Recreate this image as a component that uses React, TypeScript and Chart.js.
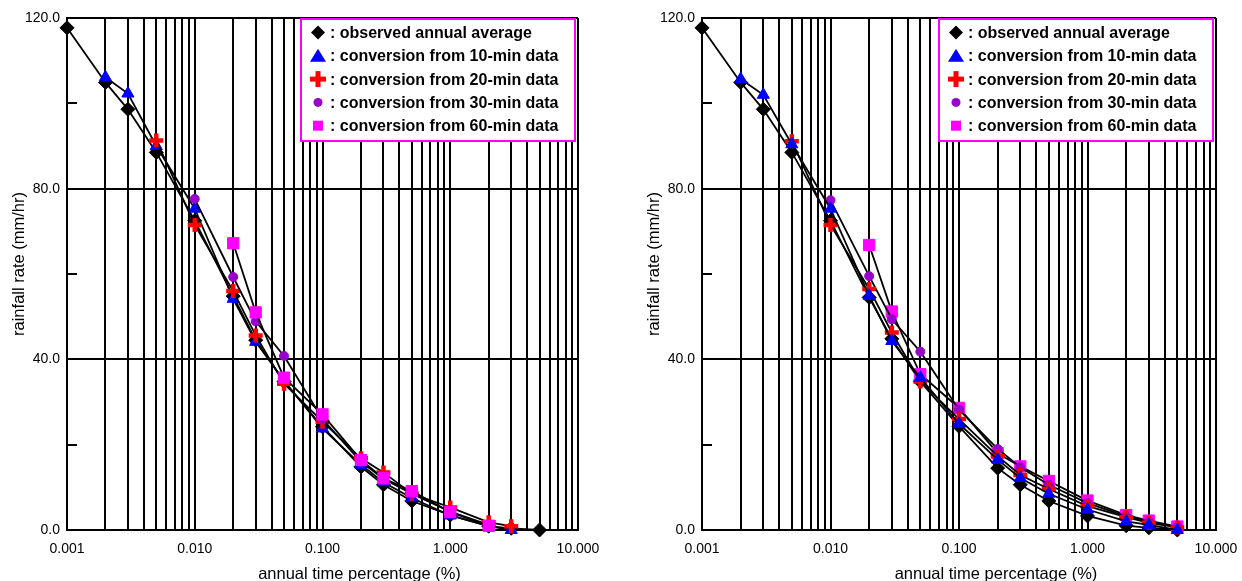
import React, { useEffect, useRef } from 'react';
import { Chart, registerables } from 'chart.js';

Chart.register(...registerables);

// ---------- data ----------
const X_PCT = [0.001, 0.002, 0.003, 0.005, 0.01, 0.02, 0.03, 0.05, 0.1, 0.2, 0.3, 0.5, 1, 2, 3, 5];

// left panel
const L_OBSERVED = [117.7, 104.9, 98.6, 88.5, 72.5, 54.8, 44.5, 34.8, 24.2, 14.8, 10.6, 6.8, 3.5, 0.9, 0.4, 0.0];
const L_CONV10 = [null, 106.1, 102.3, 90.0, 75.3, 54.2, 44.1, 35.0, 23.8, 15.3, 11.2, 7.5, 3.4, 0.9, 0.0, null];
const L_CONV20 = [null, null, null, 91.3, 71.5, 56.0, 45.6, 34.3, 25.4, 16.8, 13.5, 8.5, 5.3, 1.8, 0.9, null];
const L_CONV30 = [null, null, null, null, 77.6, 59.3, 48.9, 40.8, 26.0, 16.0, 12.0, 8.5, 4.3, 1.2, null, null];
const L_CONV60 = [null, null, null, null, null, 67.2, 51.0, 35.7, 27.1, 16.4, 12.1, 9.1, 4.2, 1.0, null, null];

// right panel
const R_OBSERVED = [117.7, 104.9, 98.6, 88.5, 72.5, 54.5, 44.8, 34.8, 24.3, 14.5, 10.6, 6.8, 3.3, 1.0, 0.5, 0.0];
const R_CONV10 = [null, 105.7, 102.0, 90.4, 75.3, 54.9, 44.3, 35.7, 24.9, 16.5, 12.2, 8.5, 4.8, 2.0, 1.2, 0.0];
const R_CONV20 = [null, null, null, 91.1, 71.5, 56.5, 46.3, 34.8, 26.0, 17.3, 12.9, 9.6, 5.6, 3.0, 1.7, 0.6];
const R_CONV30 = [null, null, null, null, 77.3, 59.5, 49.4, 41.8, 28.2, 19.0, 14.7, 10.6, 6.3, 3.2, 2.0, 0.7];
const R_CONV60 = [null, null, null, null, null, 66.8, 51.2, 36.5, 28.6, 18.0, 14.9, 11.5, 6.9, 3.5, 2.2, 0.8];

const SERIES_NAMES = [
  'observed annual average',
  'conversion from 10-min data',
  'conversion from 20-min data',
  'conversion from 30-min data',
  'conversion from 60-min data',
];

// ticks
const X_DECADES = [0.001, 0.01, 0.1, 1, 10];
const X_GRID = [
  0.001, 0.002, 0.003, 0.004, 0.005, 0.006, 0.007, 0.008, 0.009,
  0.01, 0.02, 0.03, 0.04, 0.05, 0.06, 0.07, 0.08, 0.09,
  0.1, 0.2, 0.3, 0.4, 0.5, 0.6, 0.7, 0.8, 0.9,
  1, 2, 3, 4, 5, 6, 7, 8, 9,
  10,
];
const Y_LABELED = [0, 40, 80, 120];
const Y_MINOR = [20, 60, 100];

const X_TITLE = 'annual time percentage (%)';
const Y_TITLE = 'rainfall rate (mm/hr)';

// ---------- styles ----------
const FONT = 'Arial, "Liberation Sans", sans-serif';
const STYLES = [
  { pointStyle: 'rectRot', radius: 7, color: '#000000', bw: 1 },
  { pointStyle: 'triangle', radius: 7, color: '#0000FF', bw: 1 },
  { pointStyle: 'cross', radius: 7, color: '#FF0000', bw: 4.5 },
  { pointStyle: 'circle', radius: 4.5, color: '#9900CC', bw: 1 },
  { pointStyle: 'rect', radius: 8, color: '#FF00FF', bw: 1 },
];

function drawLegendMarker(ctx: CanvasRenderingContext2D, i: number, cx: number, cy: number) {
  ctx.fillStyle = STYLES[i].color;
  ctx.beginPath();
  if (i === 0) {
    ctx.moveTo(cx, cy - 7);
    ctx.lineTo(cx + 7, cy);
    ctx.lineTo(cx, cy + 7);
    ctx.lineTo(cx - 7, cy);
    ctx.closePath();
    ctx.fill();
  } else if (i === 1) {
    ctx.moveTo(cx, cy - 7);
    ctx.lineTo(cx + 8, cy + 6);
    ctx.lineTo(cx - 8, cy + 6);
    ctx.closePath();
    ctx.fill();
  } else if (i === 2) {
    ctx.fillRect(cx - 8, cy - 2.5, 16, 5);
    ctx.fillRect(cx - 2.5, cy - 8, 5, 16);
  } else if (i === 3) {
    ctx.arc(cx, cy, 4.5, 0, Math.PI * 2);
    ctx.fill();
  } else {
    ctx.fillRect(cx - 5, cy - 5, 10, 10);
  }
}

const overlayPlugin = {
  id: 'overlay',
  afterDraw(chart: any) {
    const { ctx, chartArea: a, scales } = chart;
    const ys = scales.y;
    ctx.save();
    // inward minor ticks on y axis
    ctx.strokeStyle = '#000';
    ctx.lineWidth = 2;
    Y_MINOR.forEach((v) => {
      const py = Math.round(ys.getPixelForValue(v));
      ctx.beginPath();
      ctx.moveTo(a.left, py);
      ctx.lineTo(a.left + 10, py);
      ctx.stroke();
    });
    // axis titles
    ctx.fillStyle = '#000';
    ctx.font = `16.5px ${FONT}`;
    ctx.textAlign = 'center';
    ctx.textBaseline = 'alphabetic';
    ctx.fillText(X_TITLE, (a.left + a.right) / 2 + 37, chart.height - 2.5);
    ctx.save();
    ctx.translate(24, (a.top + a.bottom) / 2 - 10);
    ctx.rotate(-Math.PI / 2);
    ctx.fillText(Y_TITLE, 0, 0);
    ctx.restore();
    // legend box
    const lx = a.right - 277;
    const ly = a.top + 1;
    const lw = 274;
    const lh = 122;
    ctx.fillStyle = '#fff';
    ctx.fillRect(lx, ly, lw, lh);
    ctx.strokeStyle = '#FF00FF';
    ctx.lineWidth = 2;
    ctx.strokeRect(lx, ly, lw, lh);
    ctx.font = `bold 16px ${FONT}`;
    ctx.textAlign = 'left';
    ctx.textBaseline = 'middle';
    SERIES_NAMES.forEach((name, i) => {
      const cy = a.top + 14.5 + i * 23.3;
      drawLegendMarker(ctx, i, lx + 17, cy);
      ctx.fillStyle = '#000';
      ctx.fillText(': ' + name, lx + 29, cy + 1);
    });
    ctx.restore();
  },
};

type PanelProps = {
  left: number;
  width: number;
  padRight: number;
  series: (number | null)[][];
  orders: number[];
};

function Panel({ left, width, padRight, series, orders }: PanelProps) {
  const ref = useRef<HTMLCanvasElement>(null);
  useEffect(() => {
    const datasets = series.map((arr, i) => ({
      label: SERIES_NAMES[i],
      data: X_PCT.map((x, j) => ({ x, y: arr[j] })).filter((p) => p.y !== null),
      order: orders[i],
      clip: false,
      borderColor: '#000',
      borderWidth: 1.8,
      fill: false,
      tension: 0,
      pointStyle: STYLES[i].pointStyle,
      pointRadius: STYLES[i].radius,
      pointBackgroundColor: STYLES[i].color,
      pointBorderColor: STYLES[i].color,
      pointBorderWidth: STYLES[i].bw,
    }));
    const chart = new Chart(ref.current as HTMLCanvasElement, {
      type: 'line',
      data: { datasets } as any,
      options: {
        responsive: false,
        animation: false,
        devicePixelRatio: 1,
        layout: { padding: { top: 18, right: padRight, left: 0, bottom: 0 } },
        plugins: { legend: { display: false }, tooltip: { enabled: false } },
        scales: {
          x: {
            type: 'logarithmic',
            min: 0.001,
            max: 10,
            afterBuildTicks: (s: any) => {
              s.ticks = X_GRID.map((v) => ({ value: v }));
            },
            afterFit: (s: any) => {
              s.height = 51;
              s.paddingLeft = 0;
              s.paddingRight = 0;
            },
            ticks: {
              autoSkip: false,
              maxRotation: 0,
              minRotation: 0,
              padding: 11,
              color: '#000',
              font: { family: FONT, size: 14 },
              callback: (v: any) => (X_DECADES.includes(Number(v)) ? Number(v).toFixed(3) : ''),
            },
            grid: { color: '#000', lineWidth: 2, drawTicks: false },
            border: { color: '#000', width: 2 },
          },
          y: {
            type: 'linear',
            min: 0,
            max: 120,
            afterFit: (s: any) => {
              s.width = 67;
              s.paddingTop = 0;
              s.paddingBottom = 0;
            },
            ticks: {
              stepSize: 20,
              padding: 7,
              color: '#000',
              font: { family: FONT, size: 14 },
              callback: (v: any) => (Y_LABELED.includes(Number(v)) ? Number(v).toFixed(1) : ''),
            },
            grid: {
              color: (c: any) => (c.tick && Y_LABELED.includes(c.tick.value) ? '#000' : 'rgba(0,0,0,0)'),
              lineWidth: 2,
              drawTicks: false,
            },
            border: { color: '#000', width: 2 },
          },
        },
      } as any,
      plugins: [overlayPlugin],
    });
    return () => chart.destroy();
  }, []);
  return (
    <canvas
      ref={ref}
      width={width}
      height={581}
      style={{ position: 'absolute', left, top: 0, width, height: 581 }}
    />
  );
}

export default function App() {
  return (
    <div style={{ position: 'fixed', left: 0, top: 0, width: 1242, height: 581, background: '#fff', overflow: 'hidden' }}>
      <Panel
        left={0}
        width={600}
        padRight={22}
        series={[L_OBSERVED, L_CONV10, L_CONV20, L_CONV30, L_CONV60]}
        orders={[4, 3, 2, 1, 0]}
      />
      <Panel
        left={635}
        width={607}
        padRight={26}
        series={[R_OBSERVED, R_CONV10, R_CONV20, R_CONV30, R_CONV60]}
        orders={[4, 0, 1, 2, 3]}
      />
    </div>
  );
}
